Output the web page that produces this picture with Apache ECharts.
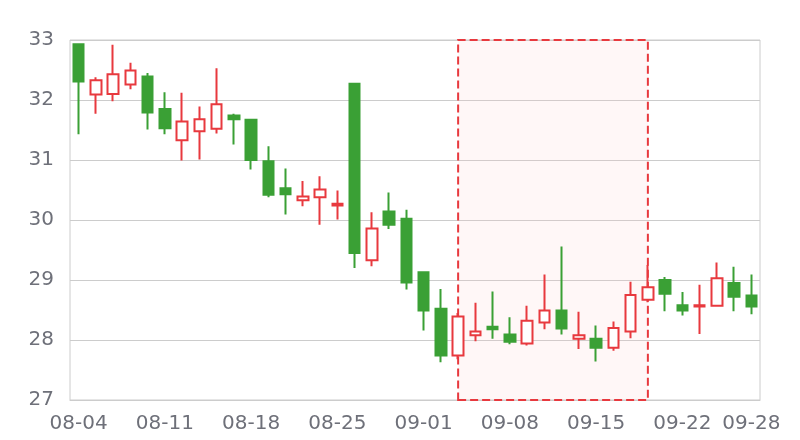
<!DOCTYPE html>
<html>
<head>
<meta charset="utf-8">
<script src="https://cdn.jsdelivr.net/npm/echarts@6/dist/echarts.min.js"></script>
<style>html,body{margin:0;padding:0;background:#fff;}#main{width:800px;height:440px;}</style>
</head>
<body>
<div id="main"></div>
<script>
const dates = ['08-04','08-05','08-06','08-07','08-10','08-11','08-12','08-13','08-14','08-17',
  '08-18','08-19','08-20','08-21','08-24','08-25','08-26','08-27','08-28','08-31',
  '09-01','09-02','09-03','09-04','09-07','09-08','09-09','09-10','09-11','09-14',
  '09-15','09-16','09-17','09-18','09-21','09-22','09-23','09-24','09-25','09-28'];
// [open, close, low, high]
const ohlc = [
  [32.93,32.31,31.43,32.93],[32.09,32.33,31.77,32.38],[32.10,32.43,31.98,32.92],[32.26,32.49,32.18,32.62],
  [32.39,31.79,31.51,32.45],[31.85,31.53,31.43,32.13],[31.33,31.64,30.99,32.12],[31.48,31.68,31.01,31.89],
  [31.52,31.93,31.44,32.53],[31.74,31.68,31.26,31.77],[31.67,31.00,30.84,31.67],[30.98,30.42,30.38,31.23],
  [30.53,30.43,30.09,30.86],[30.33,30.39,30.23,30.65],[30.38,30.51,29.92,30.73],[30.24,30.27,30.01,30.49],
  [32.27,29.45,29.20,32.27],[29.33,29.86,29.23,30.13],[30.14,29.92,29.85,30.46],[30.02,28.96,28.84,30.17],
  [29.13,28.49,28.16,29.13],[28.52,27.74,27.63,28.85],[27.74,28.39,27.68,28.45],[28.08,28.14,27.98,28.62],
  [28.22,28.18,28.02,28.81],[28.09,27.97,27.93,28.38],[27.94,28.32,27.91,28.57],[28.29,28.49,28.18,29.09],
  [28.49,28.19,28.09,29.56],[28.02,28.08,27.85,28.47],[28.02,27.87,27.64,28.24],[27.87,28.20,27.82,28.31],
  [28.14,28.75,28.03,28.97],[28.67,28.88,28.63,29.25],[29.00,28.77,28.48,29.05],[28.58,28.49,28.41,28.80],
  [28.56,28.58,28.10,28.92],[28.57,29.03,28.57,29.29],[28.95,28.72,28.48,29.22],[28.74,28.56,28.43,29.09]
];
const yTicks = [27, 28, 29, 30, 31, 32, 33];
const areaRange = ['09-03', '09-18'];

const UP = '#e8393e', DOWN = '#3aa035';
const FONT = 'DejaVu Sans';
const chart = echarts.init(document.getElementById('main'));
chart.setOption({
  animation: false,
  grid: {left: 70, right: 40, top: 40, bottom: 40, show: true, borderColor: '#ccc', borderWidth: 1},
  xAxis: {
    type: 'category', data: dates, boundaryGap: true,
    axisLine: {lineStyle: {color: '#ccc'}}, axisTick: {show: false},
    axisLabel: {interval: 4, showMaxLabel: true, color: '#6e7079', fontSize: 20, fontFamily: FONT, margin: 14}
  },
  yAxis: {
    type: 'value', min: yTicks[0], max: yTicks[yTicks.length - 1], interval: 1,
    axisLine: {show: false}, axisTick: {show: false},
    axisLabel: {color: '#6e7079', fontSize: 20, fontFamily: FONT, margin: 16},
    splitLine: {lineStyle: {color: '#ccc'}}
  },
  series: [{
    type: 'candlestick', data: ohlc, barWidth: 11,
    itemStyle: {color: '#fff', color0: DOWN, borderColor: UP, borderColor0: DOWN, borderWidth: 2},
    markArea: {
      silent: true,
      itemStyle: {color: 'rgba(255,200,200,0.15)', borderColor: UP, borderWidth: 2, borderType: 'dashed'},
      data: [[{xAxis: areaRange[0]}, {xAxis: areaRange[1]}]]
    }
  }]
});
</script>
</body>
</html>
